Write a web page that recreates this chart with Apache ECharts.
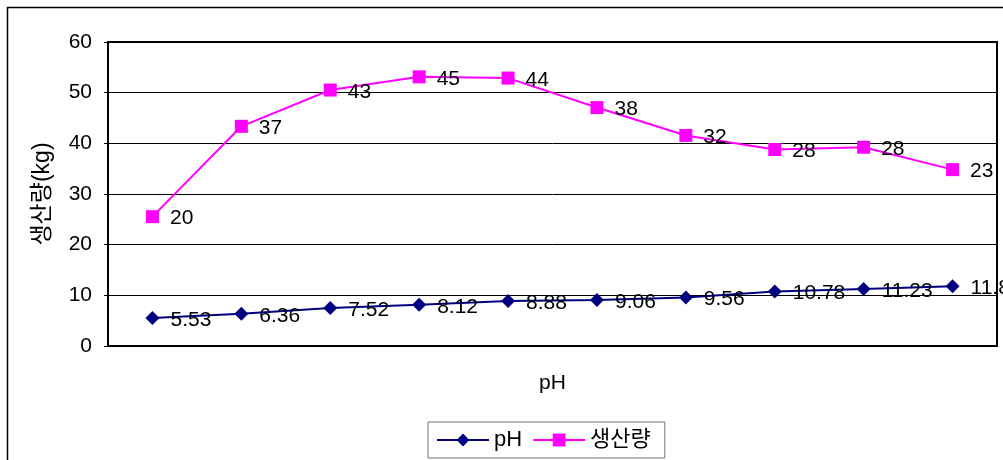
<!DOCTYPE html>
<html>
<head>
<meta charset="utf-8">
<script src="https://cdn.jsdelivr.net/npm/echarts@6/dist/echarts.min.js"></script>
<style>
  html, body { margin: 0; padding: 0; background: #fff; }
  #chart { width: 1003px; height: 460px; }
</style>
</head>
<body>
<div id="chart"></div>
<script>
// Ten samples; pH and production (kg) are stacked lines.
const categories = ['1', '2', '3', '4', '5', '6', '7', '8', '9', '10'];
const phValues = [5.53, 6.36, 7.52, 8.12, 8.88, 9.06, 9.56, 10.78, 11.23, 11.81];
const yieldValues = [20, 37, 43, 45, 44, 38, 32, 28, 28, 23];
const yTicks = [0, 10, 20, 30, 40, 50, 60];

const FONT = '"Liberation Sans", "Noto Sans CJK KR", sans-serif';

const chart = echarts.init(document.getElementById('chart'), null, { renderer: 'canvas' });

const labelStyle = {
  show: true,
  position: 'right',
  distance: 11,
  offset: [0, 2],
  color: '#000',
  fontFamily: FONT,
  fontSize: 21
};

chart.setOption({
  animation: false,
  backgroundColor: '#fff',
  textStyle: { fontFamily: FONT, color: '#000' },
  graphic: [{
    type: 'rect',
    shape: { x: 7.5, y: 7.5, width: 1010, height: 470 },
    style: { fill: 'none', stroke: '#000', lineWidth: 1.5 },
    z: 0
  }],
  grid: {
    left: 108, right: 6, top: 42, bottom: 114,
    show: true,
    borderColor: '#000',
    borderWidth: 2,
    backgroundColor: 'transparent'
  },
  legend: {
    bottom: 2,
    left: 428,
    itemWidth: 52,
    itemHeight: 16,
    itemGap: 10,
    padding: [7, 14, 7, 8],
    borderColor: '#707070',
    borderWidth: 1,
    textStyle: { fontFamily: FONT, fontSize: 22, color: '#000' },
    data: ['pH', '생산량']
  },
  xAxis: {
    type: 'category',
    data: categories,
    boundaryGap: true,
    name: 'pH',
    nameLocation: 'middle',
    nameGap: 27,
    nameTextStyle: { fontFamily: FONT, fontSize: 21, color: '#000' },
    axisLine: { lineStyle: { color: '#000', width: 2 } },
    axisTick: { show: false },
    axisLabel: { show: false }
  },
  yAxis: {
    type: 'value',
    min: yTicks[0],
    max: yTicks[yTicks.length - 1],
    interval: 10,
    name: '생산량(kg)',
    nameLocation: 'middle',
    nameRotate: 90,
    nameGap: 54,
    nameTextStyle: { fontFamily: FONT, fontSize: 23, color: '#000' },
    axisLine: { show: true, lineStyle: { color: '#000', width: 2 } },
    axisTick: { show: true, length: 4, lineStyle: { color: '#000' } },
    axisLabel: { fontFamily: FONT, fontSize: 21, color: '#000', margin: 16 },
    splitLine: { lineStyle: { color: '#000', width: 1 } }
  },
  series: [
    {
      name: 'pH',
      type: 'line',
      stack: 'total',
      data: phValues,
      symbol: 'diamond',
      symbolSize: 14,
      color: '#000080',
      lineStyle: { color: '#000080', width: 2 },
      itemStyle: { color: '#000080' },
      label: labelStyle,
      z: 3
    },
    {
      name: '생산량',
      type: 'line',
      stack: 'total',
      data: yieldValues,
      symbol: 'rect',
      symbolSize: 13,
      color: '#ff00ff',
      lineStyle: { color: '#ff00ff', width: 2 },
      itemStyle: { color: '#ff00ff' },
      label: labelStyle,
      z: 3
    }
  ]
});
</script>
</body>
</html>
